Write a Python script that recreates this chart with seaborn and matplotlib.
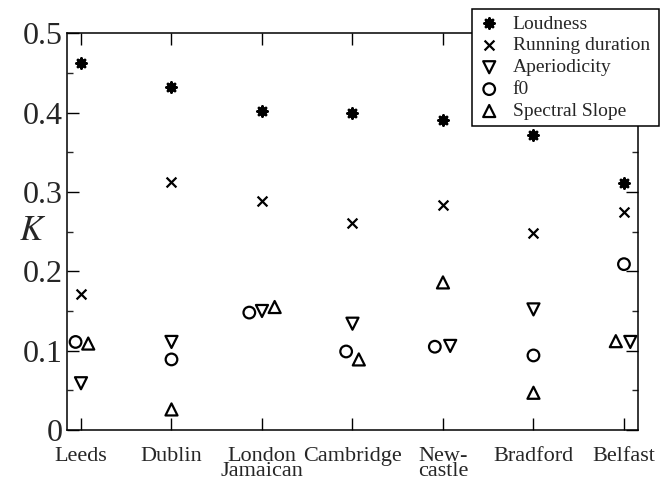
import numpy as np
import pandas as pd
import matplotlib
matplotlib.use("Agg")
import matplotlib.pyplot as plt
import seaborn as sns
from matplotlib.ticker import MultipleLocator

# data
cities = ["Leeds", "Dublin", "London\nJamaican", "Cambridge", "New-\ncastle", "Bradford", "Belfast"]
loudness = [0.462, 0.432, 0.402, 0.400, 0.391, 0.372, 0.311]
running_duration = [0.172, 0.312, 0.288, 0.261, 0.283, 0.248, 0.275]
aperiodicity = [0.059, 0.111, 0.150, 0.134, 0.106, 0.152, 0.111]
f0 = [0.111, 0.089, 0.148, 0.099, 0.105, 0.094, 0.209]
spectral_slope = [0.109, 0.026, 0.155, 0.089, 0.186, 0.047, 0.112]

series_names = ["Loudness", "Running duration", "Aperiodicity", "f0", "Spectral Slope"]
series_vals = [loudness, running_duration, aperiodicity, f0, spectral_slope]

# small horizontal nudges so overlapping markers stay visible
nudge = {
    "Loudness": [0, 0, 0, 0, 0, 0, 0],
    "Running duration": [0, 0, 0, 0, 0, 0, 0],
    "Aperiodicity": [0, 0, 0, 0, 0.08, 0, 0.07],
    "f0": [-0.06, 0, -0.14, -0.07, -0.09, 0, 0],
    "Spectral Slope": [0.08, 0, 0.14, 0.07, 0, 0, -0.09],
}

rows = []
for name, vals in zip(series_names, series_vals):
    for i, v in enumerate(vals):
        rows.append({"x": i + nudge[name][i], "K": v, "series": name})
df = pd.DataFrame(rows)

sns.set_style("ticks")
plt.rcParams["font.family"] = ["Liberation Serif", "DejaVu Serif"]
plt.rcParams["mathtext.fontset"] = "stix"

fig = plt.figure(figsize=(6.71, 4.8), dpi=100)
ax = fig.add_axes([0.0998, 0.104, 0.851, 0.827])

styles = {
    "Loudness": dict(marker=(8, 2, 0), s=50, linewidth=2.0, color="black"),
    "Running duration": dict(marker="x", s=50, linewidth=1.6, color="black"),
    "Aperiodicity": dict(marker="v", s=75, linewidth=1.6, facecolor="none", edgecolor="black"),
    "f0": dict(marker="o", s=70, linewidth=1.6, facecolor="none", edgecolor="black"),
    "Spectral Slope": dict(marker="^", s=75, linewidth=1.6, facecolor="none", edgecolor="black"),
}

for name in series_names:
    sub = df[df["series"] == name]
    sns.scatterplot(data=sub, x="x", y="K", ax=ax, label=name, zorder=3, **styles[name])

ax.set_xlim(-0.155, 6.155)
ax.set_ylim(0, 0.5)
ax.set_xticks(range(len(cities)))
ax.set_xticklabels(cities, fontsize=16, linespacing=0.72)
ax.yaxis.set_major_locator(MultipleLocator(0.1))
ax.yaxis.set_minor_locator(MultipleLocator(0.05))
ax.set_yticks([0, 0.1, 0.2, 0.3, 0.4, 0.5])
ax.set_yticklabels(["0", "0.1", "0.2", "0.3", "0.4", "0.5"], fontsize=23)

ax.tick_params(axis="both", which="major", direction="in", length=8.5, width=1,
               top=True, right=True, color="black")
ax.tick_params(axis="y", which="minor", direction="in", length=4.5, width=1, right=True)
ax.tick_params(axis="x", which="major", pad=12)
ax.tick_params(axis="y", which="major", pad=3)

for sp in ax.spines.values():
    sp.set_visible(True)
    sp.set_linewidth(1.1)
    sp.set_color("black")

ax.set_xlabel("")
ax.set_ylabel("$K$", fontsize=25, rotation=0, ha="center", va="center")
ax.yaxis.set_label_coords(-0.061, 0.5)

leg = ax.legend(loc="upper left", bbox_to_anchor=(0.703, 0.981, 0.279, 0.0),
                bbox_transform=fig.transFigure, mode="expand",
                fontsize=14, frameon=True, fancybox=False, edgecolor="black",
                framealpha=1, borderpad=0.3, labelspacing=0.22, handletextpad=0.6,
                handlelength=1.2, borderaxespad=0)
leg.get_frame().set_linewidth(1.1)
leg.set_zorder(5)

fig.savefig("out.png", dpi=100)
